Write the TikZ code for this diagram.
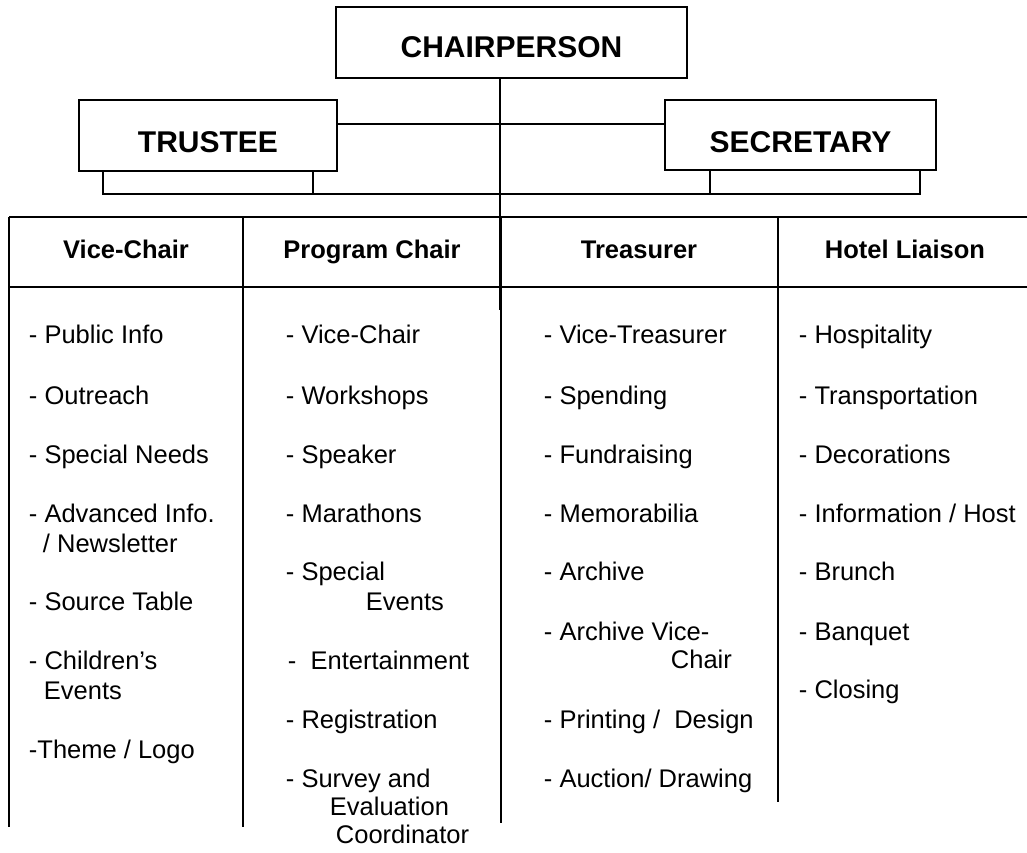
\documentclass[tikz,border=0pt]{standalone}
\usepackage{fontspec}
\setmainfont{Liberation Sans}
\begin{document}
\begin{tikzpicture}[x=1pt,y=-1pt, line width=1.9pt,
 box/.style={draw, rectangle, inner sep=0pt, text depth=0pt, font=\fontsize{30}{36}\selectfont\bfseries},
 head/.style={anchor=base, inner sep=0pt, font=\fontsize{25.5}{30}\selectfont\bfseries},
 item/.style={anchor=base west, inner sep=0pt, font=\fontsize{25.5}{30}\selectfont}]
\useasboundingbox (0,0) rectangle (1027,852);

% top boxes
\node[box, minimum width=351pt, minimum height=71pt, text height=29pt] (chair) at (511.5,42.5) {CHAIRPERSON};
\node[box, minimum width=258pt, minimum height=71pt, text height=33pt] (trustee) at (208,135.5) {TRUSTEE};
\node[box, minimum width=271pt, minimum height=70pt, text height=34pt] (secretary) at (800.5,135) {SECRETARY};

% connectors
\coordinate (spine) at (500,310);
\coordinate (hl) at (0,124);
\coordinate (bl) at (103,194);
\coordinate (br) at (920,194);
\coordinate (tb) at (313,194);
\coordinate (sb) at (710,194);
\draw (chair.south -| spine) -- (spine);
\draw (trustee.east |- hl) -- (secretary.west |- hl);
\draw (trustee.south -| bl) -- (bl) -- (br) -- (secretary.south -| br);
\draw (trustee.south -| tb) -- (tb);
\draw (secretary.south -| sb) -- (sb);

% table frame
\draw (9,217) -- (1030,217);
\draw (9,287) -- (1030,287);
\draw (9,217) -- (9,827);
\draw (243,217) -- (243,827);
\draw (501,217) -- (501,823);
\draw (778,217) -- (778,802);

% headers
\node[head] (h1) at (126,258) {Vice-Chair};
\node[head] (h2) at (372,258) {Program Chair};
\node[head] (h3) at (639,258) {Treasurer};
\node[head] (h4) at (905,258) {Hotel Liaison};

% column 1
\node[item] (a1) at (28,343) {- Public Info};
\node[item] (a2) at (28,404) {- Outreach};
\node[item] (a3) at (28,463) {- Special Needs};
\node[item] (a4) at (28,522) {- Advanced Info.};
\node[item] (a4b) at (42,552) {/ Newsletter};
\node[item] (a5) at (28,610) {- Source Table};
\node[item] (a6) at (28,669) {- Children’s};
\node[item] (a6b) at (43,699) {Events};
\node[item] (a7) at (28,758) {-Theme / Logo};

% column 2
\node[item] (b1) at (285,343) {- Vice-Chair};
\node[item] (b2) at (285,404) {- Workshops};
\node[item] (b3) at (285,463) {- Speaker};
\node[item] (b4) at (285,522) {- Marathons};
\node[item] (b5) at (285,580) {- Special};
\node[item] (b5b) at (365,610) {Events};
\node[item] (b6) at (287,669) {- \ Entertainment};
\node[item] (b7) at (285,728) {- Registration};
\node[item] (b8) at (285,787) {- Survey and};
\node[item] (b8b) at (329,815) {Evaluation};
\node[item] (b8c) at (335,843) {Coordinator};

% column 3
\node[item] (c1) at (543,343) {- Vice-Treasurer};
\node[item] (c2) at (543,404) {- Spending};
\node[item] (c3) at (543,463) {- Fundraising};
\node[item] (c4) at (543,522) {- Memorabilia};
\node[item] (c5) at (543,580) {- Archive};
\node[item] (c6) at (543,640) {- Archive Vice-};
\node[item] (c6b) at (670,668) {Chair};
\node[item] (c7) at (543,728) {- Printing / \ Design};
\node[item] (c8) at (543,787) {- Auction/ Drawing};

% column 4
\node[item] (d1) at (798,343) {- Hospitality};
\node[item] (d2) at (798,404) {- Transportation};
\node[item] (d3) at (798,463) {- Decorations};
\node[item] (d4) at (798,522) {- Information / Host};
\node[item] (d5) at (798,580) {- Brunch};
\node[item] (d6) at (798,640) {- Banquet};
\node[item] (d7) at (798,698) {- Closing};
\end{tikzpicture}
\end{document}
